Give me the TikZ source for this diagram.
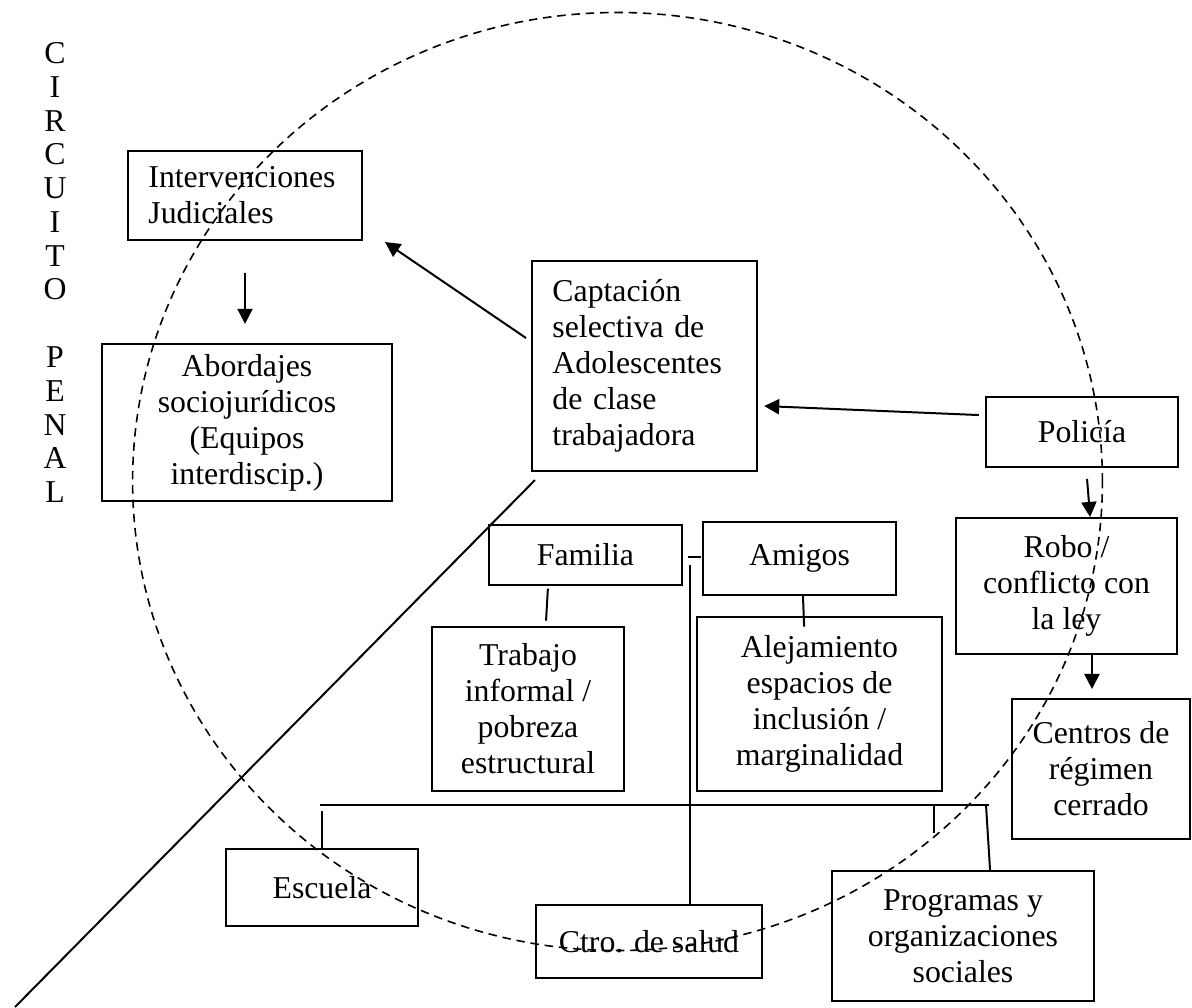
\documentclass[tikz,border=0pt]{standalone}
\usepackage{fontspec}
\setmainfont{Liberation Serif}
\usepackage{tikz}
\usetikzlibrary{positioning, calc, arrows.meta, shapes}
\tikzstyle{Flecha} = [
%punta rellena como en el original:
line width = 0.75pt,
-{Triangle[length = 5.7pt, width = 5.7pt]}
]

\begin{document}
\begin{tikzpicture}[
		x = 0.3774pt, y = -0.3774pt,
		caja/.style = {rectangle, line width = 0.75pt, draw, align = center, inner sep = 0pt, font = \fontsize{12}{13.6}\selectfont},
		cajaizq/.style = {caja, align = left, inner xsep = 7.7pt},
		linea/.style = {line width = 0.75pt},
		circulo/.style = {dash pattern = on 3.2pt off 2.2pt, line width = 0.6pt},
	]
	\useasboundingbox (0,0) rectangle (1192,1007);

	\node[align = center, inner sep = 0pt, font = \fontsize{12}{12.75}\selectfont](circuito) at (55,272.5){C\\I\\R\\C\\U\\I\\T\\O\\[12.75pt]P\\E\\N\\A\\L};

	\node[cajaizq, minimum width = 88.3pt, minimum height = 33.6pt, text width = 72.9pt](interv) at (245,195.5){Intervenciones\\Judiciales};
	\node[caja, minimum width = 109.4pt, minimum height = 59.3pt](abord) at (247,422.5){Abordajes\\sociojurídicos\\(Equipos\\interdiscip.)};
	\node[cajaizq, minimum width = 84.9pt, minimum height = 79.3pt, text width = 69.5pt](capt) at (644.5,366){Captación\\selectiva de\\Adolescentes\\de clase\\trabajadora};
	\node[caja, minimum width = 72.5pt, minimum height = 26.4pt](polic) at (1082,432){Policía};
	\node[caja, minimum width = 83.4pt, minimum height = 51.3pt](robo) at (1066.5,586){Robo /\\conflicto con\\la ley};
	\node[caja, minimum width = 67.2pt, minimum height = 52.8pt](centros) at (1101,769){Centros de\\régimen\\cerrado};
	\node[caja, minimum width = 72.8pt, minimum height = 22.6pt](familia) at (585.5,555){Familia};
	\node[caja, minimum width = 72.8pt, minimum height = 27.5pt](amigos) at (799.5,558.5){Amigos};
	\node[caja, minimum width = 72.5pt, minimum height = 61.9pt](trabajo) at (528,709){Trabajo\\informal /\\pobreza\\estructural};
	\node[caja, minimum width = 92.5pt, minimum height = 65.7pt](alej) at (819.5,704){Alejamiento\\espacios de\\inclusión /\\marginalidad};
	\node[caja, minimum width = 72.5pt, minimum height = 29.1pt](escuela) at (322,887.5){Escuela};
	\node[caja, minimum width = 85.3pt, minimum height = 27.5pt](ctro) at (649,941.5){Ctro. de salud};
	\node[caja, minimum width = 98.9pt, minimum height = 49.1pt](programas) at (963,936){Programas y\\organizaciones\\sociales};

	% flechas
	\coordinate(cola) at (526,338);
	\coordinate(punta) at (385,242);
	\draw[Flecha](cola)--(punta);
	\draw[Flecha, shorten <= 12.1pt, shorten >= 7.2pt](interv.south)--(interv.south |- abord.north);
	\draw[Flecha]([xshift = -2.3pt, yshift = 6.4pt]polic.west)--([xshift = 2.3pt, yshift = -15.1pt]capt.east);
	\draw[Flecha]([xshift = 1.9pt, yshift = -4.1pt]polic.south)--([xshift = 8.9pt]robo.north);
	\draw[Flecha, shorten >= 3.4pt]([xshift = 9.6pt]robo.south)--([xshift = 9.6pt]robo.south |- centros.north);

	% lineas
	\coordinate(esquina) at (15,1007);
	\draw[linea]([shift = {(1.5pt,-3pt)}]capt.south west)--(esquina);
	\draw[linea]([xshift = -14.2pt, yshift = -1pt]familia.south)--([xshift = 6.8pt, yshift = 2pt]trabajo.north);
	\draw[linea]([xshift = 1.3pt]amigos.south)--([xshift = -5.8pt, yshift = -4pt]alej.north);
	\draw[linea]($(familia.east)+(5,2)$)--++(13,0);
	\coordinate(vert) at (690,565);
	\draw[linea](vert)--(vert |- ctro.north);
	\coordinate(rama1) at (320,805);
	\coordinate(rama2) at (989,805);
	\draw[linea](rama1)--(rama2);
	\draw[linea]([yshift = 14pt]escuela.north)--(escuela.north);
	\draw[linea]($(rama2)+(-55,0)$)--++(0,28);
	\draw[linea]($(rama2)+(-3,0)$)--([xshift = 10.2pt]programas.north);

	% circulo punteado
	\draw[circulo](617.5,481.5) ellipse [x radius = 183pt, y radius = 177pt];
\end{tikzpicture}
\end{document}
